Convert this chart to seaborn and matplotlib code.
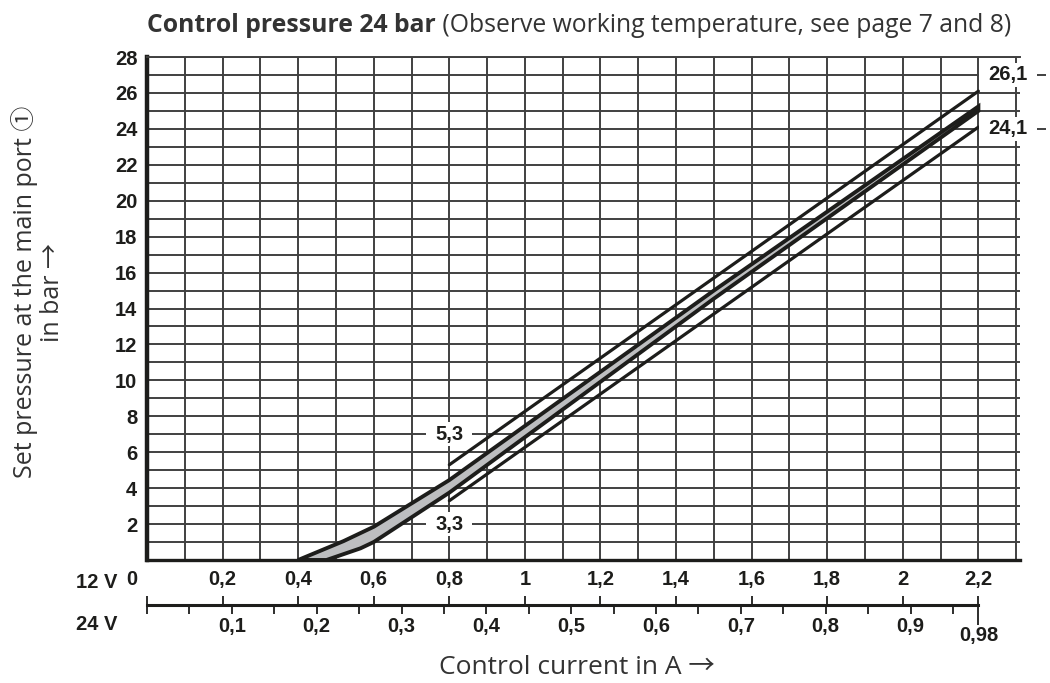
import matplotlib
matplotlib.use("Agg")
import matplotlib.pyplot as plt
import matplotlib.transforms as mtransforms
import matplotlib.font_manager as fm
from matplotlib.path import Path
import seaborn as sns

# 12 V scale of the control current in A (main x axis)
x12_ticks = [0, 0.2, 0.4, 0.6, 0.8, 1.0, 1.2, 1.4, 1.6, 1.8, 2.0, 2.2]
x12_labels = ["0", "0,2", "0,4", "0,6", "0,8", "1", "1,2", "1,4", "1,6", "1,8", "2", "2,2"]

# 24 V scale of the control current in A
x24_ticks = [0.1, 0.2, 0.3, 0.4, 0.5, 0.6, 0.7, 0.8, 0.9, 0.98]
x24_labels = ["0,1", "0,2", "0,3", "0,4", "0,5", "0,6", "0,7", "0,8", "0,9", "0,98"]
x24_minor = [0, 0.05, 0.15, 0.25, 0.35, 0.45, 0.55, 0.65, 0.75, 0.85, 0.95]

# set pressure in bar
y_ticks = [2, 4, 6, 8, 10, 12, 14, 16, 18, 20, 22, 24, 26, 28]

# tolerance lines
upper_x = [0.8, 2.2]
upper_y = [5.3, 26.1]
lower_x = [0.8, 2.2]
lower_y = [3.3, 24.1]

# characteristic band (grey)
band_top_x = [0.40, 0.52, 0.60, 0.80, 1.50, 2.20]
band_top_y = [0.0, 1.05, 1.85, 4.45, 15.0, 25.25]
band_bot_x = [0.475, 0.565, 0.60, 0.80, 1.50, 2.20]
band_bot_y = [0.0, 0.65, 1.0, 3.75, 14.55, 25.0]

callout_labels = ["26,1", "24,1", "5,3", "3,3"]


def has_bold(name):
    # check that a real bold face of the family is installed
    for f in fm.fontManager.ttflist:
        if f.name != name:
            continue
        w = f.weight
        if isinstance(w, str):
            w = fm.weight_dict.get(w, 400)
        if w >= 600:
            return True
    return False


def label_box(x0, y0, width, height, mutation_size):
    # white box, wider than tall, to blank the grid behind a label
    px = 0.45 * mutation_size
    py = 0.12 * mutation_size
    return Path([(x0 - px, y0 - py), (x0 + width + px, y0 - py),
                 (x0 + width + px, y0 + height + py), (x0 - px, y0 + height + py),
                 (x0 - px, y0 - py)], closed=True)


names = {f.name for f in fm.fontManager.ttflist}
text_font = next((n for n in ["Noto Sans", "Open Sans", "Lato", "Roboto", "Inter"] if has_bold(n)), "DejaVu Sans")
narrow = "Liberation Sans Narrow" if "Liberation Sans Narrow" in names else "Liberation Sans"

sns.set_theme(style="white")
plt.rcParams["font.family"] = [text_font, "Noto Sans CJK JP", "DejaVu Sans"]
num_font = [narrow, "DejaVu Sans"]
ink = "#1d1d1b"
grid_c = "#404040"
txt_c = "#333333"
fs_num = 16 if narrow == "Liberation Sans Narrow" else 14.5
fs_txt = 18

fig = plt.figure(figsize=(10.5, 6.83), dpi=100)
ax = fig.add_axes([0.14, 0.1801, 0.8314, 0.7364])

# band: top edge forward, bottom edge backward
poly_x = band_top_x + band_bot_x[::-1]
poly_y = band_top_y + band_bot_y[::-1]
ax.fill(poly_x, poly_y, facecolor="#bdbec0", edgecolor=ink, linewidth=2.8, zorder=2)
sns.lineplot(x=upper_x, y=upper_y, ax=ax, color=ink, linewidth=2.3, zorder=2)
sns.lineplot(x=lower_x, y=lower_y, ax=ax, color=ink, linewidth=2.3, zorder=2)

ax.set_xlim(0, 2.31)
ax.set_ylim(0, 28)
ax.set_xticks(x12_ticks, x12_labels)
ax.set_yticks(y_ticks)
ax.set_xticks([i / 10 for i in range(24)], minor=True)
ax.set_yticks(range(29), minor=True)
ax.grid(which="both", color=grid_c, linewidth=1.4)
ax.set_axisbelow(True)
ax.tick_params(axis="x", which="both", length=0, pad=7)
ax.tick_params(axis="y", which="both", length=0, pad=7)
for lab in ax.get_xticklabels() + ax.get_yticklabels():
    lab.set_family(num_font)
    lab.set_weight("bold")
    lab.set_size(fs_num)
    lab.set_color(ink)
lab0 = ax.get_xticklabels()[0]
lab0.set_transform(lab0.get_transform() + mtransforms.ScaledTranslation(-0.15, 0, fig.dpi_scale_trans))

ax.spines["right"].set_visible(False)
ax.spines["top"].set_color(grid_c)
ax.spines["top"].set_linewidth(1.4)
ax.spines["left"].set_color(ink)
ax.spines["left"].set_linewidth(3.2)
ax.spines["bottom"].set_color(ink)
ax.spines["bottom"].set_linewidth(2.4)

# callouts with white boxes over the grid; right ones get a short leader
callout_pos = [(2.278, 27), (2.278, 24), (0.8, 7), (0.8, 2)]
for s, (cx, cy) in zip(callout_labels, callout_pos):
    if cx > x12_ticks[-1]:
        ax.hlines(cy, ax.get_xlim()[1], cx + 0.1, color=grid_c, linewidth=1.4,
                  clip_on=False, zorder=1)
    ax.text(cx, cy, s, ha="center", va="center", family=num_font, weight="bold",
            size=fs_num, color=ink, zorder=3, clip_on=False,
            bbox=dict(boxstyle=label_box, fc="white", ec="none"))

# 24 V scale below
scale = x12_ticks[-1] / x24_ticks[-1]
ax24 = fig.add_axes([0.14, 1 - 605 / 683, 0.8314, 0.0001])
ax24.set_xlim(ax.get_xlim())
ax24.patch.set_visible(False)
for s in ["top", "left", "right"]:
    ax24.spines[s].set_visible(False)
ax24.spines["bottom"].set_bounds(0, x12_ticks[-1])
ax24.spines["bottom"].set_color(ink)
ax24.spines["bottom"].set_linewidth(2.2)
ax24.set_yticks([])
ax24.set_xticks([v * scale for v in x24_ticks], x24_labels)
ax24.set_xticks([v * scale for v in x24_minor], minor=True)
ax24.tick_params(axis="x", which="both", direction="out", length=6.5, width=1.3,
                 color=ink, pad=2)
for lab in ax24.get_xticklabels():
    lab.set_family(num_font)
    lab.set_weight("bold")
    lab.set_size(fs_num)
    lab.set_color(ink)
last = ax24.xaxis.get_major_ticks()[-1]
last.set_pad(8.5)
last.tick1line.set_markersize(14.5)

ax12 = ax24.twiny()
ax12.set_xlim(ax.get_xlim())
ax12.patch.set_visible(False)
for s in ax12.spines.values():
    s.set_visible(False)
ax12.xaxis.set_ticks_position("bottom")
ax12.set_xticks(x12_ticks)
ax12.tick_params(axis="x", direction="in", length=6.5, width=1.3, color=ink,
                 labelbottom=False, labeltop=False)

fig.text(76 / 1050, 1 - 582 / 683, "12 V", ha="left", va="center", family=num_font,
         weight="bold", size=fs_num, color=ink)
fig.text(76 / 1050, 1 - 624 / 683, "24 V", ha="left", va="center", family=num_font,
         weight="bold", size=fs_num, color=ink)

# axis titles
fig.text(38 / 1050, 1 - 292 / 683, "Set pressure at the main port \u2460\nin bar \u2192",
         rotation=90, ha="center", va="center", multialignment="center",
         size=fs_txt, color=txt_c, linespacing=1.15)
fig.text(577 / 1050, 1 - 667 / 683, "Control current in A \u2192", ha="center", va="center",
         size=19, color=txt_c)

t1 = fig.text(147 / 1050, 1 - 32 / 683, "Control pressure 24 bar", ha="left", va="baseline",
              size=17.8, weight="bold", color=txt_c)
ax.annotate(" (Observe working temperature, see page 7 and 8)", xy=(1, 0), xycoords=t1,
            ha="left", va="bottom", size=17.8, color=txt_c, annotation_clip=False)
plt.savefig("out.png", dpi=100)
